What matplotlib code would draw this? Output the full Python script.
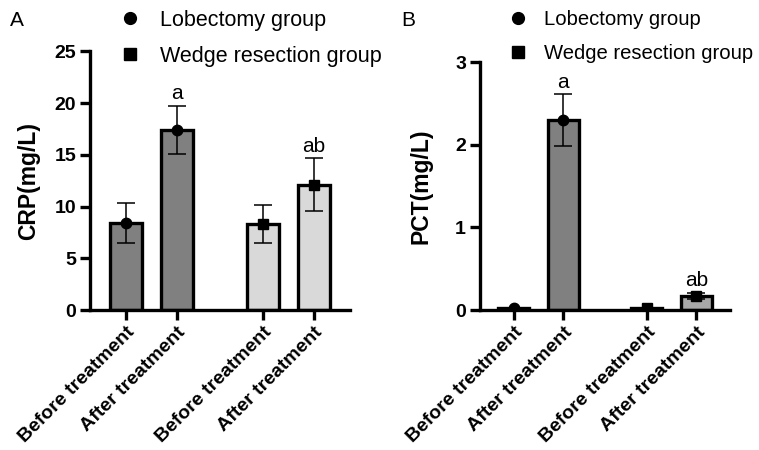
import matplotlib
matplotlib.use("Agg")
import matplotlib.pyplot as plt
from matplotlib.lines import Line2D
import numpy as np

plt.rcParams["font.family"] = ["Liberation Sans", "DejaVu Sans"]

# ── Data ─────────────────────────────────────────────────────────────────────
categories = ["Before treatment", "After treatment", "Before treatment", "After treatment"]
positions = np.array([0.0, 1.0, 2.68, 3.68])

crp_mean = [8.4, 17.4, 8.3, 12.1]
crp_sd = [1.9, 2.3, 1.85, 2.55]
crp_marks = ["", "a", "", "ab"]

pct_mean = [0.02, 2.30, 0.02, 0.17]
pct_sd = [0.01, 0.31, 0.01, 0.04]
pct_marks = ["", "a", "", "ab"]

group_markers = ["o", "o", "s", "s"]
legend_labels = ["Lobectomy group", "Wedge resection group"]

DARK = "#808080"
LIGHT = "#d9d9d9"
MID = "#a8a8a8"

EDGE_LW = 2.4
W, H = 759, 450


def draw_panel(ax, means, sds, marks, fills, ylabel, ylim, yticks, xlim, label_pad,
               leg_x, leg_y, leg_space, leg_pad, leg_size):
    ax.bar(positions, means, width=0.62, color=fills, edgecolor="black",
           linewidth=EDGE_LW, zorder=2)
    ax.errorbar(positions, means, yerr=sds, fmt="none", ecolor="black",
                elinewidth=1.1, capsize=6.5, capthick=1.1, zorder=3)
    for x, m, mk in zip(positions, means, group_markers):
        ax.plot(x, m, marker=mk, color="black", markersize=7.5, zorder=4)
    for x, m, s, t in zip(positions, means, sds, marks):
        if t:
            ax.annotate(t, xy=(x, m + s), xytext=(0, 2), textcoords="offset points",
                        ha="center", va="bottom", fontsize=15)

    ax.set_xlim(*xlim)
    ax.set_ylim(*ylim)
    ax.set_yticks(yticks)
    ax.set_xticks(positions)
    ax.set_xticklabels(categories, rotation=45, ha="right", rotation_mode="anchor",
                       fontsize=14, fontweight="bold")
    for lab in ax.get_yticklabels():
        lab.set_fontweight("bold")
        lab.set_fontsize(14)
    ax.set_ylabel(ylabel, fontsize=16.5, fontweight="bold", labelpad=label_pad)

    for side in ["top", "right"]:
        ax.spines[side].set_visible(False)
    for side in ["left", "bottom"]:
        ax.spines[side].set_linewidth(EDGE_LW)
    ax.tick_params(axis="both", direction="out", length=7, width=EDGE_LW, pad=3)
    ax.spines["left"].set_bounds(ylim[0], yticks[-1])

    handles = [Line2D([], [], marker="o", color="black", ls="none", markersize=8.5),
               Line2D([], [], marker="s", color="black", ls="none", markersize=8)]
    ax.legend(handles, legend_labels, loc="upper left",
              bbox_to_anchor=(leg_x / W, 1 - leg_y / H), bbox_transform=ax.figure.transFigure,
              frameon=False, fontsize=leg_size, handletextpad=leg_pad, labelspacing=leg_space,
              borderaxespad=0, borderpad=0, handlelength=1.2)


fig = plt.figure(figsize=(W / 100, H / 100), dpi=100)
axA = fig.add_axes([90 / W, 0.311, 260 / W, 0.575])
axB = fig.add_axes([480 / W, 0.311, 250 / W, 0.551])

draw_panel(axA, crp_mean, crp_sd, crp_marks, [DARK, DARK, LIGHT, LIGHT],
           "CRP(mg/L)", (0, 25), [0, 5, 10, 15, 20, 25], (-0.71, 4.39), 10.5,
           117, 10, 0.68, 0.8, 15.5)
draw_panel(axB, pct_mean, pct_sd, pct_marks, [DARK, DARK, LIGHT, MID],
           "PCT(mg/L)", (0, 3), [0, 1, 2, 3], (-0.68, 4.36), 16.5,
           506, 10, 0.75, 0.65, 14.6)

fig.text(0.013, 0.955, "A", fontsize=15, va="center")
fig.text(0.528, 0.955, "B", fontsize=15, va="center")

fig.savefig("out.png", dpi=100)
